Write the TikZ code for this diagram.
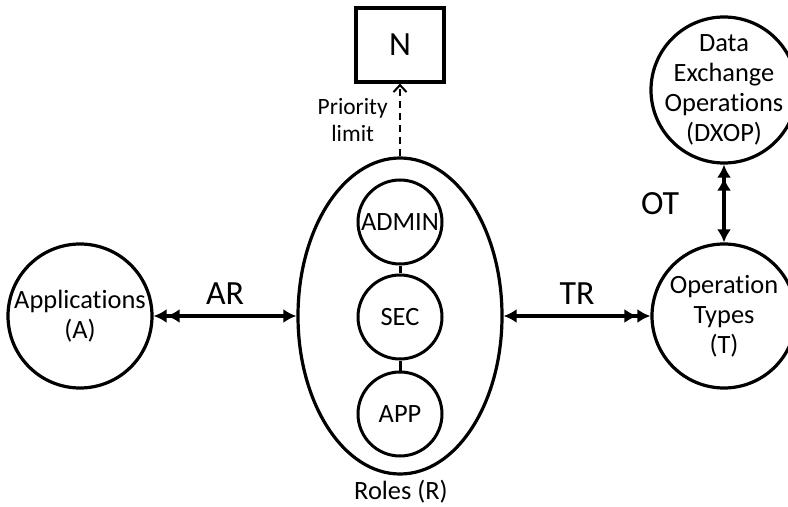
\documentclass[tikz,border=0pt]{standalone}
\usepackage{fontspec}
\setmainfont{Carlito}[Ligatures=NoCommon]
\usetikzlibrary{positioning,shapes.geometric,arrows.meta}

\tikzset{
  one/.tip={Latex[length=13bp,width=14bp]},
  two/.tip={Latex[length=13bp,width=14bp]Latex[length=13bp,width=14bp]}
}

\begin{document}
\begin{tikzpicture}[x=1bp,y=-1bp,
    every node/.style={font=\fontsize{26.5}{30}\selectfont},
    set/.style={circle,draw,line width=3.2bp,inner sep=0pt},
    role/.style={circle,draw,line width=3bp,minimum size=84bp,inner sep=0pt},
    rel/.style={line width=3.2bp},
    big/.style={font=\fontsize{34}{40}\selectfont}]
  \useasboundingbox (0,0) rectangle (788,507);

  % sets
  \node[set,minimum size=144bp] (apps) at (80,316) {};
  \node[align=center] at (apps) {Applications\\(A)};
  \node[draw,ellipse,line width=3.2bp,minimum width=204bp,minimum height=316bp] (roles) at (400,316) {};
  \node[set,minimum size=144bp] (types) at (724,316) {};
  \node[align=center] at (types) {Operation\\Types\\(T)};
  \node[set,minimum size=146bp] (dxop) at (724,90) {};
  \node[align=center] at (dxop) {Data\\Exchange\\Operations\\(DXOP)};
  \node[draw,line width=3.2bp,minimum width=88bp,minimum height=74bp,big] (n) at (400,45) {N};

  % roles inside R
  \node[role] (admin) at (400,222) {ADMIN};
  \node[role] (sec) at (400,317) {SEC};
  \node[role] (app) at (400,414) {APP};
  \node at (401,492) {Roles (R)};
  \draw[line width=3bp] (admin) -- (sec) (sec) -- (app);

  % relations
  \draw[rel,two-one] (apps) -- (roles) node[midway,above=7bp,big]{AR};
  \draw[rel,one-two] (roles) -- (types) node[midway,above=7bp,big]{TR};
  \draw[rel,two-one] (dxop) -- (types) node[midway,left=40bp,big]{OT};
  \draw[dashed,dash pattern=on 7bp off 5bp,line width=2bp,-{Straight Barb[length=7bp,width=13bp]}] (roles) -- (n)
    node[midway,left=8bp,align=center,font=\fontsize{23.5}{27}\selectfont]{Priority\\limit};
\end{tikzpicture}
\end{document}
